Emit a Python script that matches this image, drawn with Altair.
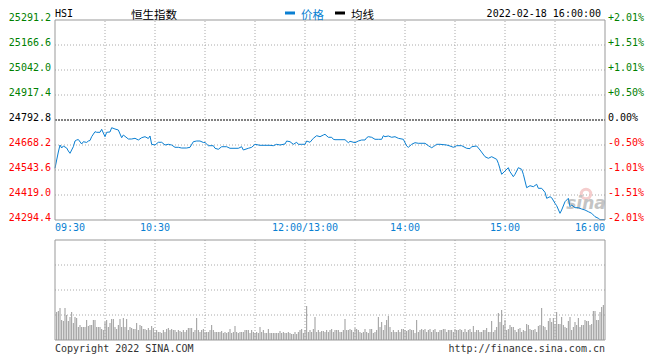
import altair as alt
import pandas as pd
import numpy as np

PREV_CLOSE = 24792.8
Y_MIN, Y_MAX = 24294.4, 25291.2
T_MAX = 330  # trading minutes 09:30-12:00 + 13:00-16:00

price_minutes = [0, 1, 2, 3, 4, 5, 7, 8, 9, 10, 11, 12, 13, 14, 16, 17, 19, 20, 21, 22,
                 24, 25, 27, 28, 30, 31, 33, 34, 36, 38, 40, 41, 44, 46, 48, 50, 52, 54, 56, 57,
                 58, 60, 62, 64, 66, 68, 70, 72, 74, 76, 79, 81, 83, 85, 87, 89, 90, 92, 95, 96,
                 98, 100, 103, 105, 110, 112, 113, 116, 118, 120, 123, 126, 129, 131, 133, 135, 138, 139, 141, 143,
                 145, 146, 148, 150, 151, 153, 155, 157, 159, 161, 162, 164, 166, 167, 168, 171, 174, 176, 177, 180,
                 182, 184, 186, 187, 188, 190, 192, 194, 196, 197, 198, 200, 202, 204, 206, 209, 211, 212, 214, 216,
                 218, 222, 224, 226, 227, 229, 231, 235, 237, 239, 241, 244, 247, 249, 250, 253, 255, 258, 260, 262,
                 265, 266, 268, 270, 272, 273, 275, 276, 278, 280, 281, 283, 285, 287, 289, 290, 292, 294, 295, 297,
                 298, 300, 301, 303, 304, 306, 308, 309, 310, 312, 314, 316, 318, 320, 322, 324, 326, 327, 330]
price_values = [24552.1, 24593.4, 24633.3, 24668.2, 24653.2, 24663.2, 24653.2, 24638.3, 24626.8, 24643.3,
                24659.7, 24688.1, 24693.1, 24695.6, 24673.2, 24684.6, 24681.0, 24688.1, 24690.6, 24709.6,
                24734.5, 24731.5, 24731.5, 24746.4, 24709.6, 24731.5, 24733.0, 24754.4, 24747.9, 24743.0,
                24704.6, 24718.0, 24698.1, 24698.1, 24701.6, 24693.1, 24704.6, 24709.6, 24700.6, 24713.1,
                24671.7, 24668.2, 24681.7, 24681.7, 24668.2, 24671.7, 24668.2, 24656.7, 24656.7, 24653.2,
                24653.2, 24656.7, 24684.6, 24688.1, 24688.1, 24680.7, 24680.7, 24664.7, 24664.7, 24651.8,
                24646.8, 24659.7, 24659.7, 24651.8, 24651.8, 24659.7, 24643.3, 24651.8, 24656.7, 24671.7,
                24666.7, 24666.7, 24666.7, 24664.7, 24671.7, 24668.2, 24673.2, 24688.1, 24684.6, 24671.7,
                24681.7, 24671.7, 24671.7, 24671.7, 24688.1, 24681.7, 24701.6, 24714.5, 24709.6, 24718.0,
                24721.5, 24706.6, 24706.6, 24696.6, 24694.6, 24694.6, 24694.6, 24679.7, 24686.6, 24679.7,
                24688.1, 24693.1, 24693.1, 24704.6, 24709.6, 24706.6, 24696.6, 24696.6, 24696.6, 24714.5,
                24709.6, 24713.1, 24706.6, 24709.6, 24701.6, 24696.6, 24663.2, 24656.7, 24671.7, 24679.7,
                24676.7, 24676.7, 24664.7, 24654.7, 24659.7, 24671.7, 24671.7, 24668.2, 24663.2, 24656.7,
                24664.7, 24664.7, 24651.8, 24650.0, 24659.7, 24663.2, 24643.3, 24609.9, 24601.9, 24609.9,
                24596.9, 24577.0, 24522.2, 24538.6, 24555.1, 24535.1, 24510.2, 24522.2, 24555.1, 24547.1,
                24522.2, 24455.4, 24465.3, 24460.4, 24472.3, 24452.4, 24452.4, 24432.5, 24402.5, 24410.5,
                24405.5, 24377.6, 24365.7, 24327.8, 24344.2, 24385.6, 24402.5, 24360.7, 24369.2, 24355.7,
                24355.7, 24349.2, 24344.2, 24335.8, 24327.8, 24310.9, 24302.9, 24296.0, 24296.0]

# per-minute volume (relative units, panel top = 100), minutes 1..329
volume_values = [
    28, 29, 32, 20, 19, 32, 25, 19, 23, 28, 17, 23, 22, 13, 15, 13, 13, 13, 20, 14,
    15, 15, 20, 20, 13, 13, 13, 11, 10, 18, 20, 13, 17, 21, 21, 13, 11, 15, 21, 13,
    22, 13, 21, 10, 13, 12, 11, 11, 17, 10, 15, 14, 11, 11, 10, 12, 10, 14, 12, 8,
    10, 8, 8, 7, 10, 8, 11, 12, 10, 11, 10, 10, 8, 10, 9, 8, 10, 8, 10, 12,
    12, 12, 8, 10, 22, 10, 8, 10, 11, 8, 8, 8, 10, 15, 10, 8, 8, 8, 8, 9,
    7, 8, 7, 8, 11, 7, 8, 14, 8, 7, 8, 8, 8, 10, 10, 10, 7, 10, 8, 7,
    8, 7, 13, 8, 10, 7, 7, 11, 7, 7, 7, 7, 7, 7, 9, 7, 8, 7, 7, 8,
    7, 6, 6, 8, 6, 8, 10, 11, 7, 10, 34, 8, 10, 8, 11, 23, 8, 10, 8, 9,
    9, 8, 10, 8, 10, 11, 8, 10, 10, 10,
    8, 8, 10, 21, 10, 10, 11, 10, 8, 12, 11, 10, 8, 7, 8, 11, 8, 7, 11, 11,
    7, 8, 10, 23, 13, 18, 10, 15, 20, 24, 13, 8, 10, 8, 8, 10, 8, 11, 11, 10,
    9, 10, 11, 10, 10, 7, 20, 8, 10, 11, 10, 11, 8, 10, 11, 8, 10, 11, 8, 8,
    10, 10, 11, 11, 8, 10, 10, 10, 8, 11, 10, 10, 11, 10, 8, 11, 8, 10, 11, 8,
    14, 8, 10, 10, 8, 8, 10, 10, 12, 8, 8, 19, 8, 10, 13, 27, 18, 30, 15, 20,
    10, 11, 15, 13, 13, 10, 8, 11, 12, 8, 10, 9, 16, 15, 11, 10, 10, 11, 8, 14,
    15, 32, 14, 13, 10, 19, 22, 18, 22, 16, 28, 16, 16, 23, 15, 13, 12, 19, 23, 10,
    13, 18, 15, 22, 13, 15, 15, 20, 19, 19, 15, 16, 29, 29, 20, 20, 28, 33, 35]

price_ticks = [25291.2, 25166.6, 25042.0, 24917.4, 24792.8, 24668.2, 24543.6, 24419.0, 24294.4]
pct_labels = ["+2.01%", "+1.51%", "+1.01%", "+0.50%", "0.00%", "-0.50%", "-1.01%", "-1.51%", "-2.01%"]
grid_minutes = [30, 60, 90, 120, 150, 180, 210, 240, 270, 300]
time_labels = ["09:30", "10:30", "12:00/13:00", "14:00", "15:00", "16:00"]
time_minutes = [0, 60, 150, 210, 270, 330]
vol_grid = [25, 50, 75]

MONO = "DejaVu Sans Mono"
CJK = "Noto Sans CJK SC"
BLUE = "#0a7fd2"
GRID = "#aaaaaa"
BORDER = "#999999"

xs = alt.Scale(domain=[0, T_MAX], nice=False, zero=False)
ps = alt.Scale(domain=[Y_MIN, Y_MAX], range=[200, 0], nice=False, zero=False)
vs = alt.Scale(domain=[0, 100], range=[320, 220], nice=False, zero=False)


def X(f):
    return alt.X(f, type="quantitative", scale=xs, axis=None)


def YP(f):
    return alt.Y(f, type="quantitative", scale=ps, axis=None)


def YV(f):
    return alt.Y(f, type="quantitative", scale=vs, axis=None)


df_line = pd.DataFrame({"minute": price_minutes, "price": price_values})
df_vol = pd.DataFrame({"minute": list(range(1, 1 + len(volume_values))), "vol": volume_values, "zero": 0})
side = np.where(np.array(price_ticks) > PREV_CLOSE + 0.05, "up",
                np.where(np.array(price_ticks) < PREV_CLOSE - 0.05, "down", "flat"))
df_ticks = pd.DataFrame({"price": price_ticks, "pct": pct_labels, "side": side, "x0": 0, "x1": T_MAX})
df_hgrid = df_ticks[(df_ticks.side != "flat")].iloc[1:-1]
df_zero = pd.DataFrame({"price": [PREV_CLOSE], "x0": [0], "x1": [T_MAX]})
df_vgrid = pd.DataFrame({"minute": grid_minutes, "p0": Y_MIN, "p1": Y_MAX, "v0": 0, "v1": 100})
df_vhgrid = pd.DataFrame({"vol": vol_grid, "x0": 0, "x1": T_MAX})
df_time = pd.DataFrame({"minute": time_minutes, "label": time_labels, "p": Y_MIN})
df_box = pd.DataFrame({"x0": [0], "x1": [T_MAX], "p0": [Y_MIN], "p1": [Y_MAX], "v0": [0], "v1": [100]})

color_side = alt.Color("side:N", scale=alt.Scale(domain=["up", "flat", "down"],
                                                 range=["#008000", "#000000", "#ff0000"]), legend=None)

hgrid = alt.Chart(df_hgrid).mark_rule(color=GRID, strokeDash=[1, 2], strokeWidth=1).encode(
    x=X("x0"), x2="x1", y=YP("price"))
vgrid = alt.Chart(df_vgrid).mark_rule(color=GRID, strokeDash=[1, 2], strokeWidth=1).encode(
    x=X("minute"), y=YP("p0"), y2="p1")
zero = alt.Chart(df_zero).mark_rule(color="#000000", strokeDash=[2, 1], strokeWidth=1).encode(
    x=X("x0"), x2="x1", y=YP("price"))

wm_text = alt.Chart(pd.DataFrame({"t": ["sina"]})).mark_text(
    font="DejaVu Sans", fontSize=17, fontWeight="bold", fontStyle="italic", color="#c4c4c4",
    align="center", baseline="alphabetic").encode(x=alt.value(531), y=alt.value(189), text="t:N")
wm_eye = alt.Chart(pd.DataFrame({"t": ["o"]})).mark_point(
    shape="circle", size=90, stroke="#f2b8b8", strokeWidth=3, filled=False).encode(
    x=alt.value(531), y=alt.value(174))

line = alt.Chart(df_line).mark_line(color=BLUE, strokeWidth=1, interpolate="linear").encode(
    x=X("minute"), y=YP("price"))

box_main = alt.Chart(df_box).mark_rect(fillOpacity=0, stroke=BORDER, strokeWidth=1).encode(
    x=X("x0"), x2="x1", y=YP("p0"), y2="p1")

left_lab = alt.Chart(df_ticks).mark_text(font=MONO, fontSize=10, align="right", baseline="alphabetic",
                                         dx=-4, dy=1).encode(
    x=X("x0"), y=YP("price"), text=alt.Text("price:Q", format=".1f"), color=color_side)
right_lab = alt.Chart(df_ticks).mark_text(font=MONO, fontSize=10, align="left", baseline="alphabetic",
                                          dx=3, dy=1).encode(
    x=X("x1"), y=YP("price"), text="pct:N", color=color_side)

t_first = alt.Chart(df_time.iloc[:1]).mark_text(font=MONO, fontSize=10, align="left", baseline="alphabetic",
                                                dy=11, color=BLUE).encode(
    x=X("minute"), y=YP("p"), text="label:N")
t_mid = alt.Chart(df_time.iloc[1:-1]).mark_text(font=MONO, fontSize=10, align="center", baseline="alphabetic",
                                                dy=11, color=BLUE).encode(
    x=X("minute"), y=YP("p"), text="label:N")
t_last = alt.Chart(df_time.iloc[-1:]).mark_text(font=MONO, fontSize=10, align="right", baseline="alphabetic",
                                                dy=11, color=BLUE).encode(
    x=X("minute"), y=YP("p"), text="label:N")

# volume panel
vol_hgrid = alt.Chart(df_vhgrid).mark_rule(color=GRID, strokeDash=[1, 2], strokeWidth=1).encode(
    x=X("x0"), x2="x1", y=YV("vol"))
vol_vgrid = alt.Chart(df_vgrid).mark_rule(color=GRID, strokeDash=[1, 2], strokeWidth=1).encode(
    x=X("minute"), y=YV("v0"), y2="v1")
vol_bars = alt.Chart(df_vol).mark_rule(color="#999999", strokeWidth=1).encode(
    x=X("minute"), y=YV("vol"), y2="zero")
box_vol = alt.Chart(df_box).mark_rect(fillOpacity=0, stroke=BORDER, strokeWidth=1).encode(
    x=X("x0"), x2="x1", y=YV("v0"), y2="v1")

# header
def htext(t, x, y, align="left", font=MONO, size=10, color="#000000"):
    return alt.Chart(pd.DataFrame({"t": [t]})).mark_text(
        font=font, fontSize=size, align=align, baseline="alphabetic", color=color).encode(
        x=alt.value(x), y=alt.value(y), text="t:N")

hdr_code = htext("HSI", 0, -3)
hdr_name = htext("恒生指数", 76, -1, font=CJK, size=11.5)
hdr_date = htext("2022-02-18 16:00:00", 546, -3, align="right")
leg_blue = alt.Chart(pd.DataFrame({"a": [0]})).mark_rule(color=BLUE, strokeWidth=3).encode(
    x=alt.value(230), x2=alt.value(240), y=alt.value(-7))
leg_black = alt.Chart(pd.DataFrame({"a": [0]})).mark_rule(color="#000000", strokeWidth=3).encode(
    x=alt.value(280), x2=alt.value(290), y=alt.value(-7))
leg_t1 = htext("价格", 246, -1, font=CJK, size=11.5, color=BLUE)
leg_t2 = htext("均线", 296, -1, font=CJK, size=11.5)

foot_l = htext("Copyright 2022 SINA.COM", 0, 332, color="#333333")
foot_r = htext("http://finance.sina.com.cn", 550, 332, align="right", color="#333333")

chart = alt.layer(
    hgrid, vgrid, zero, wm_eye, wm_text, line, box_main, left_lab, right_lab, t_first, t_mid, t_last,
    vol_hgrid, vol_vgrid, vol_bars, box_vol,
    hdr_code, hdr_name, hdr_date, leg_blue, leg_black, leg_t1, leg_t2, foot_l, foot_r
).resolve_scale(y="independent").properties(
    width=550, height=320,
    padding={"left": 47, "top": 12, "right": 45, "bottom": 15},
    autosize=alt.AutoSizeParams(type="none"),
    background="white",
).configure_view(strokeWidth=0)

chart.save("out.html", embed_options={"renderer": "svg", "actions": False})
